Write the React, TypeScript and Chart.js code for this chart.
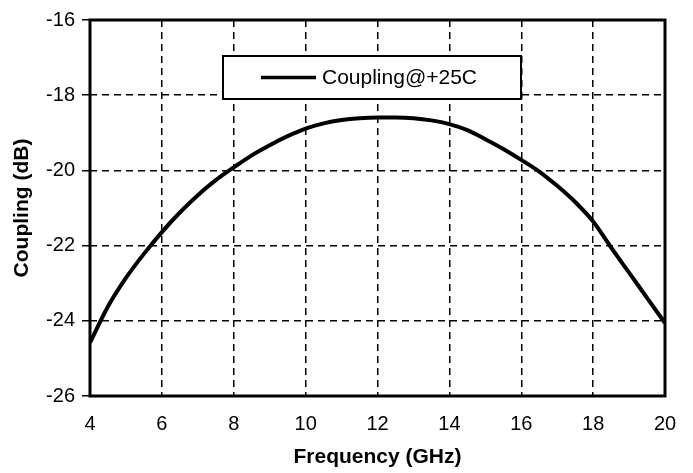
import React, { useEffect, useRef } from "react";
import { Chart, registerables } from "chart.js";

Chart.register(...registerables);

const frequencies = [4, 4.5, 5, 5.5, 6, 6.5, 7, 7.5, 8, 8.5, 9, 9.5, 10, 10.5, 11, 11.5, 12, 12.5, 13, 13.5, 14, 14.5, 15, 15.5, 16, 16.5, 17, 17.5, 18, 18.5, 19, 19.5, 20];
const coupling25C = [-24.58, -23.62, -22.86, -22.22, -21.64, -21.12, -20.66, -20.26, -19.92, -19.6, -19.33, -19.09, -18.89, -18.75, -18.66, -18.61, -18.59, -18.59, -18.61, -18.67, -18.77, -18.93, -19.17, -19.43, -19.72, -20.03, -20.41, -20.84, -21.36, -22.05, -22.72, -23.39, -24.06];
const seriesLabel = "Coupling@+25C";
const xTitle = "Frequency (GHz)";
const yTitle = "Coupling (dB)";

const FONT = "'Liberation Sans', Arial, sans-serif";

const framePlugin = {
  id: "frameAndLegend",
  afterDraw(chart: any) {
    const { ctx, chartArea } = chart;
    ctx.save();
    ctx.strokeStyle = "#000";
    ctx.lineWidth = 3;
    ctx.strokeRect(chartArea.left, chartArea.top, chartArea.right - chartArea.left, chartArea.bottom - chartArea.top);
    // legend box
    const bx = 223, by = 56, bw = 298, bh = 43;
    ctx.fillStyle = "#fff";
    ctx.fillRect(bx, by, bw, bh);
    ctx.lineWidth = 2;
    ctx.strokeRect(bx, by, bw, bh);
    ctx.lineWidth = 3.5;
    ctx.beginPath();
    ctx.moveTo(261, 77.5);
    ctx.lineTo(316, 77.5);
    ctx.stroke();
    ctx.fillStyle = "#000";
    ctx.font = `21px ${FONT}`;
    ctx.textBaseline = "middle";
    ctx.textAlign = "left";
    ctx.fillText(chart.data.datasets[0].label, 322, 78);
    ctx.restore();
  },
};

export default function App() {
  const ref = useRef<HTMLCanvasElement>(null);
  useEffect(() => {
    const chart = new Chart(ref.current!, {
      type: "line",
      data: {
        datasets: [
          {
            label: seriesLabel,
            data: frequencies.map((f, i) => ({ x: f, y: coupling25C[i] })),
            borderColor: "#000",
            borderWidth: 4,
            pointRadius: 0,
            cubicInterpolationMode: "monotone",
            fill: false,
          },
        ],
      },
      options: {
        animation: false,
        responsive: false,
        maintainAspectRatio: false,
        layout: { padding: { left: 0, top: 20, right: 28, bottom: 0 } },
        plugins: { legend: { display: false }, tooltip: { enabled: false } },
        scales: {
          x: {
            type: "linear",
            min: 4,
            max: 20,
            afterFit: (s: any) => { s.height = 77; },
            ticks: { stepSize: 2, color: "#000", font: { family: FONT, size: 20 }, padding: 16, maxRotation: 0 },
            grid: { color: "#000", lineWidth: 1.5, drawTicks: false },
            border: { display: false, dash: [7, 5] },
            title: { display: true, text: xTitle, color: "#000", font: { family: FONT, size: 21, weight: "bold" }, padding: { top: 0, bottom: 3 } },
          },
          y: {
            min: -26,
            max: -16,
            afterFit: (s: any) => { s.width = 90; },
            ticks: { stepSize: 2, color: "#000", font: { family: FONT, size: 20 }, padding: 7 },
            grid: { color: "#000", lineWidth: 1.5, drawTicks: true, tickLength: 8, tickColor: "#000", tickWidth: 1.5 },
            border: { display: false, dash: [7, 5] },
            title: { display: true, text: yTitle, color: "#000", font: { family: FONT, size: 21, weight: "bold" }, padding: { top: 10, bottom: 0 } },
          },
        },
      },
      plugins: [framePlugin],
    } as any);
    return () => chart.destroy();
  }, []);
  return (
    <div style={{ position: "fixed", left: 0, top: 0, width: 693, height: 473, background: "#fff" }}>
      <canvas ref={ref} width={693} height={473} style={{ width: 693, height: 473 }} />
    </div>
  );
}
